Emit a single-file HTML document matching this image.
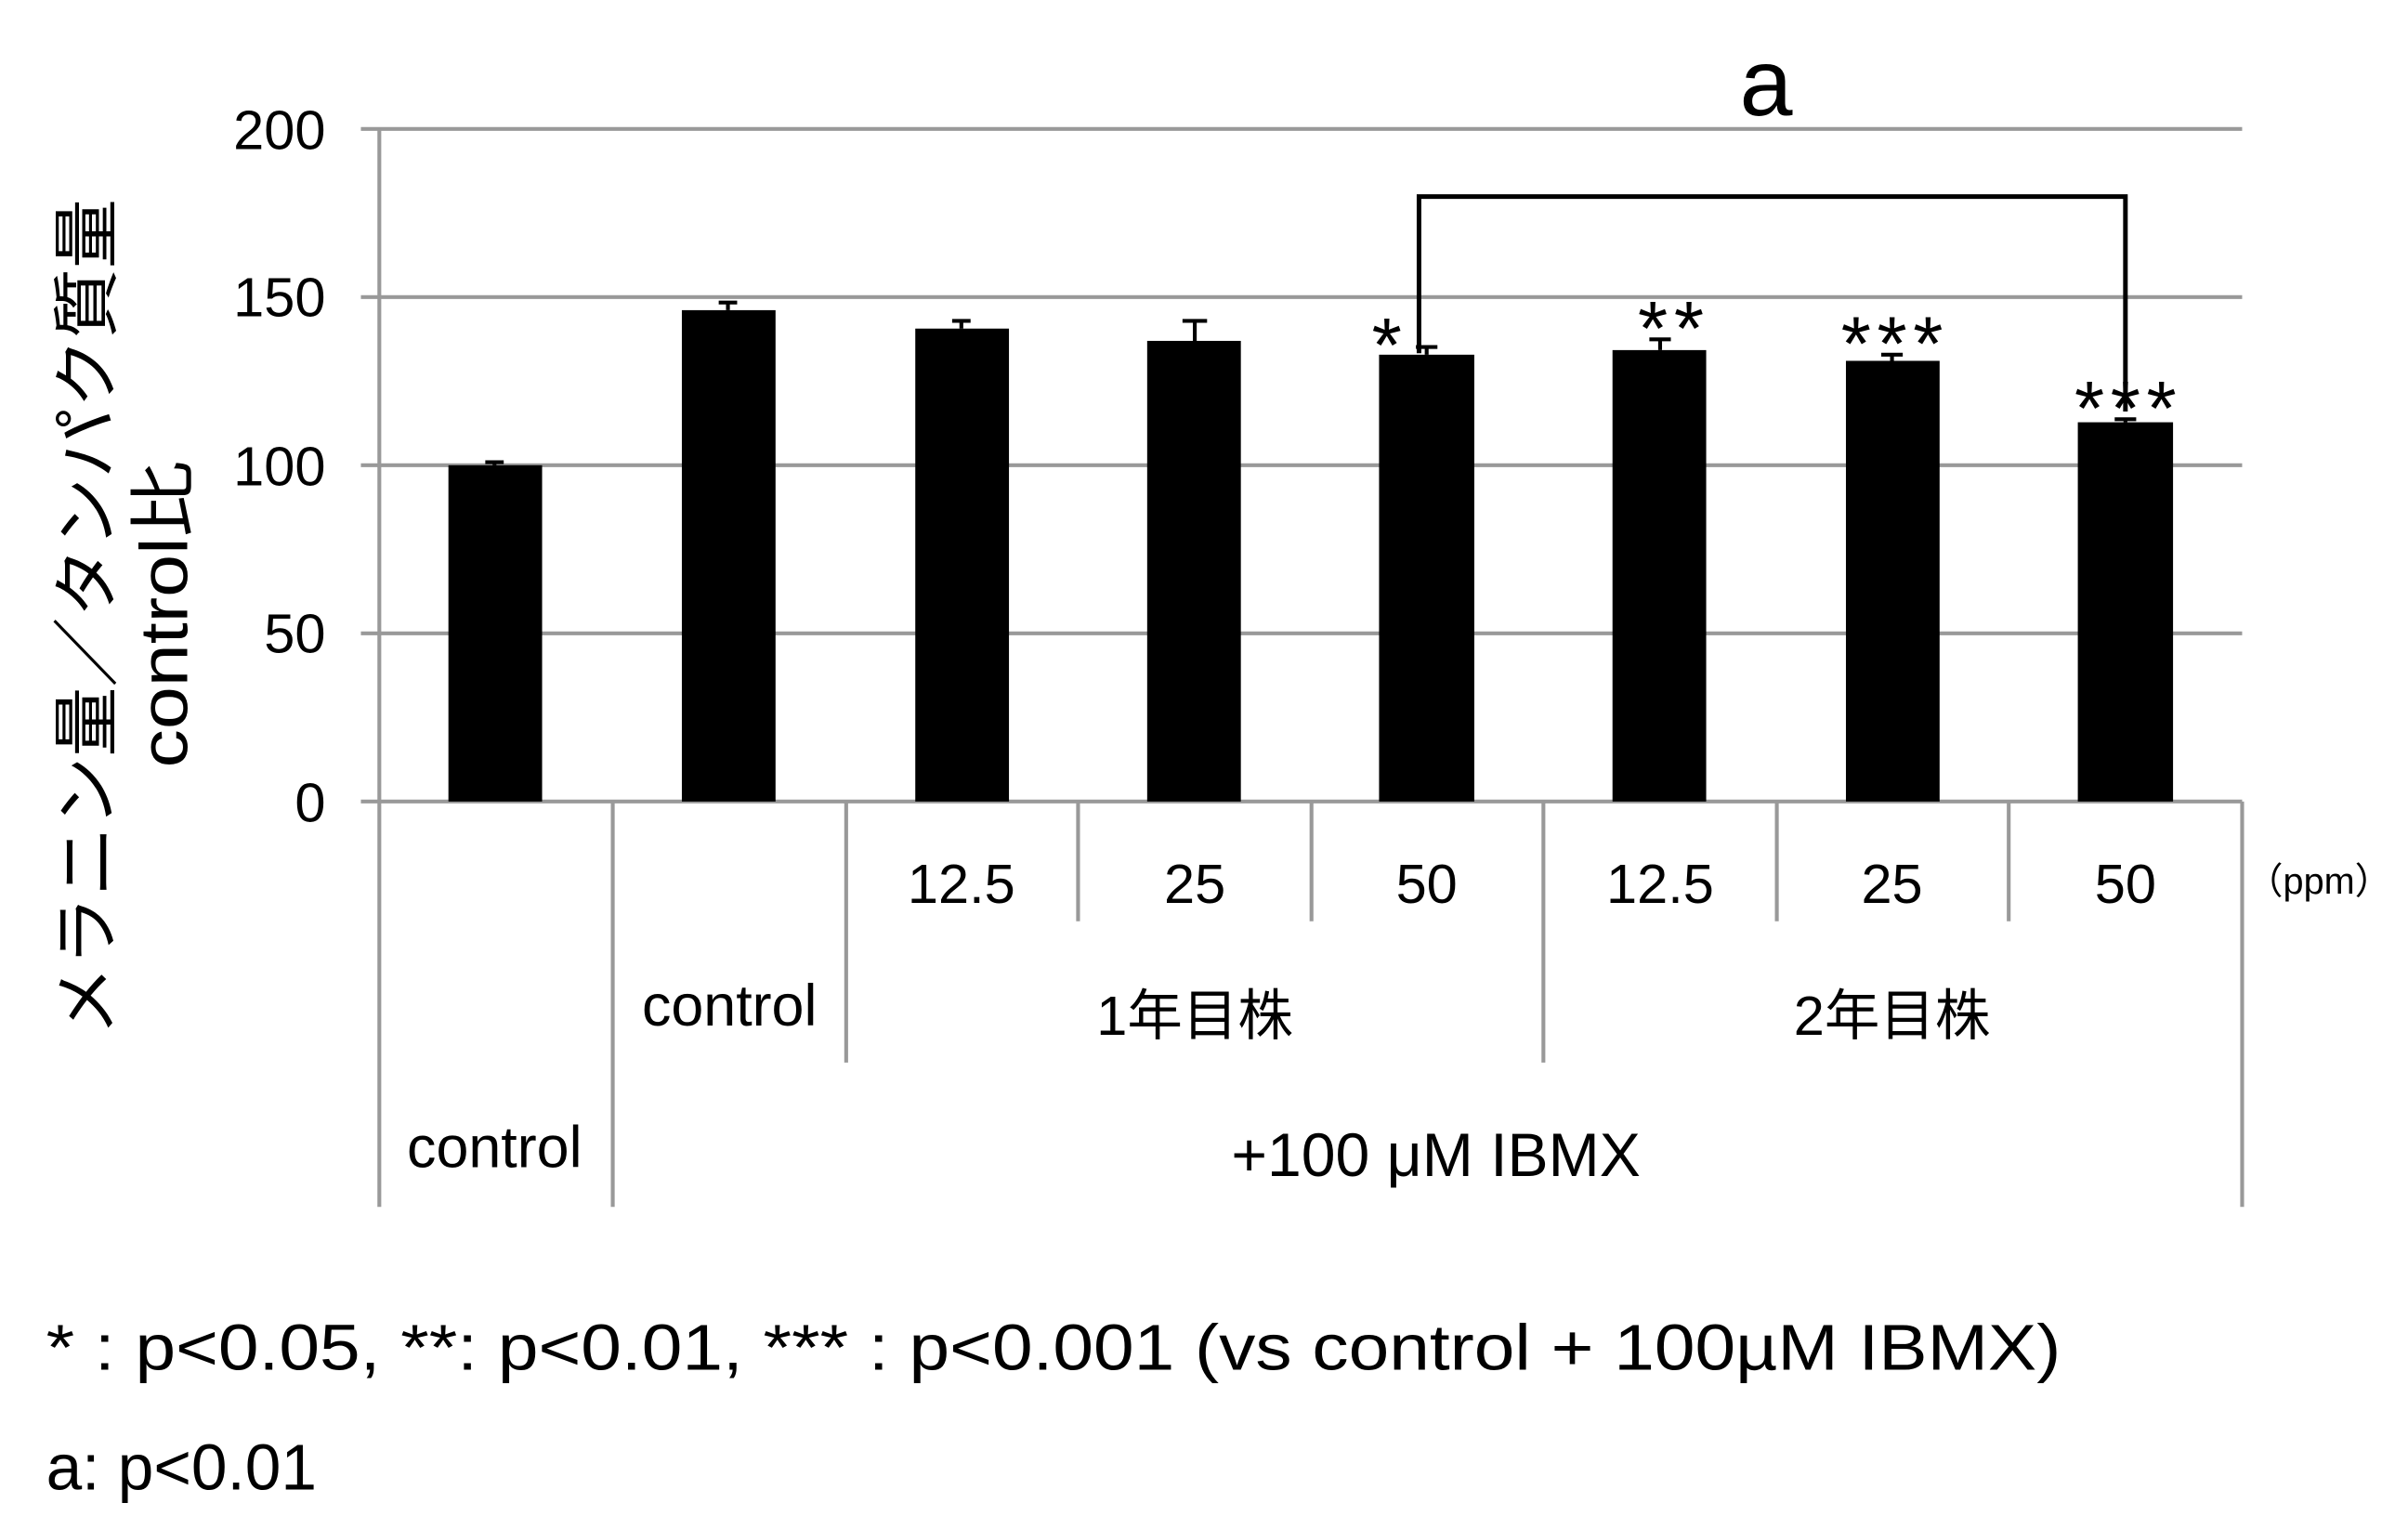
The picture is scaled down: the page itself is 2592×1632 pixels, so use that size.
<!DOCTYPE html>
<html><head><meta charset="utf-8"><style>
html,body{margin:0;padding:0;background:#fff;}
svg{display:block;}
text{font-family:"Liberation Sans","Noto Sans CJK JP",sans-serif;fill:#000;}
</style></head><body>
<svg width="2592" height="1632" viewBox="0 0 1568 987.3" preserveAspectRatio="none" xmlns="http://www.w3.org/2000/svg">
<g stroke="#999" stroke-width="2.5">
<line x1="235" y1="84" x2="1460" y2="84"/>
<line x1="235" y1="193.5" x2="1460" y2="193.5"/>
<line x1="235" y1="303" x2="1460" y2="303"/>
<line x1="235" y1="412.5" x2="1460" y2="412.5"/>
<line x1="235" y1="522" x2="1460" y2="522"/>
<line x1="247" y1="84" x2="247" y2="786"/>
<line x1="399" y1="522" x2="399" y2="786"/>
<line x1="551" y1="522" x2="551" y2="692"/>
<line x1="702" y1="522" x2="702" y2="600"/>
<line x1="854" y1="522" x2="854" y2="600"/>
<line x1="1005" y1="522" x2="1005" y2="692"/>
<line x1="1157" y1="522" x2="1157" y2="600"/>
<line x1="1308" y1="522" x2="1308" y2="600"/>
<line x1="1460" y1="522" x2="1460" y2="786"/>
</g>
<g font-size="36" text-anchor="end">
<text x="212" y="97">200</text>
<text x="212" y="206">150</text>
<text x="212" y="316">100</text>
<text x="212" y="425">50</text>
<text x="212" y="535">0</text>
</g>
<g fill="#000" stroke="#000" stroke-width="2.5">
<rect x="292" y="303" width="61" height="219" stroke="none"/>
<rect x="444" y="202" width="61" height="320" stroke="none"/>
<rect x="596" y="214" width="61" height="308" stroke="none"/>
<rect x="747" y="222" width="61" height="300" stroke="none"/>
<rect x="898" y="231" width="62" height="291" stroke="none"/>
<rect x="1050" y="228" width="61" height="294" stroke="none"/>
<rect x="1202" y="235" width="61" height="287" stroke="none"/>
<rect x="1353" y="275" width="62" height="247" stroke="none"/>
<path d="M322 303V301M316 301H328 M474 202V197M468 197H480 M626 214V209M620 209H632 M778 222V209M770 209H786 M929 231V226M922 226H936 M1081 228V221M1074 221H1088 M1232 235V231M1225 231H1239 M1384 275V273M1377 273H1391" fill="none"/>
<path d="M924 230V128H1384V268" fill="none" stroke-width="3"/>
</g>
<g font-size="50" text-anchor="middle" letter-spacing="4">
<text x="905" y="242">*</text>
<text x="1090" y="231">**</text>
<text x="1234" y="241">***</text>
<text x="1386" y="283">***</text>
</g>
<text x="1150" y="75" font-size="62" text-anchor="middle">a</text>
<g font-size="36" text-anchor="middle">
<text x="626" y="588">12.5</text>
<text x="778" y="588">25</text>
<text x="929" y="588">50</text>
<text x="1081" y="588">12.5</text>
<text x="1232" y="588">25</text>
<text x="1384" y="588">50</text>
<text x="475" y="668" font-size="38">control</text>
<text x="778" y="674">1年目株</text>
<text x="1232" y="674">2年目株</text>
<text x="322" y="760" font-size="38">control</text>
<text x="935" y="766" font-size="40">+100 μM IBMX</text>
</g>
<text x="1510" y="582" font-size="24" text-anchor="middle">（ppm）</text>
<g font-size="44" text-anchor="middle">
<text transform="translate(72,402) rotate(-90)" textLength="545" lengthAdjust="spacingAndGlyphs">メラニン量／タンパク質量</text>
<text transform="translate(122,400) rotate(-90)" textLength="200" lengthAdjust="spacingAndGlyphs">control比</text>
</g>
<text x="30" y="892" font-size="42" textLength="1312" lengthAdjust="spacingAndGlyphs">* : p&lt;0.05, **: p&lt;0.01, *** : p&lt;0.001 (vs control + 100µM IBMX)</text>
<text x="30" y="970" font-size="42">a: p&lt;0.01</text>
</svg>
</body></html>
